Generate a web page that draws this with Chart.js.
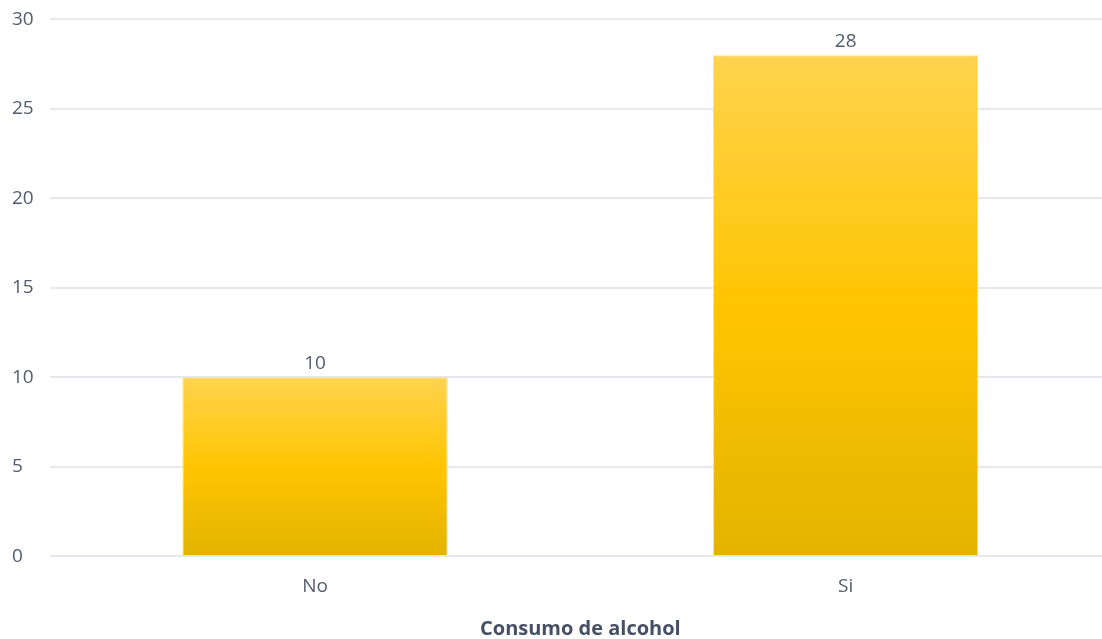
<!DOCTYPE html>
<html>
<head>
<meta charset="utf-8">
<script src="https://cdn.jsdelivr.net/npm/chart.js@4/dist/chart.umd.min.js"></script>
<style>
  html, body { margin: 0; padding: 0; background: #fff; overflow: hidden; }
  #wrap { width: 1111px; height: 639px; }
</style>
</head>
<body>
<div id="wrap"><canvas id="chart"></canvas></div>
<script>
const categories = ['No', 'Si'];
const counts = [10, 28];
const yTicks = [0, 5, 10, 15, 20, 25, 30];
const xTitle = 'Consumo de alcohol';

const textColor = '#525c6e';

// vertical gradient per bar, from its top to the baseline
const barGradient = (context) => {
    const chart = context.chart;
    const yScale = chart.scales.y;
    if (!chart.chartArea || !yScale || context.dataIndex === undefined) return '#FFC400';
    const top = yScale.getPixelForValue(counts[context.dataIndex]);
    const bottom = yScale.getPixelForValue(0);
    if (!isFinite(top) || !isFinite(bottom) || top === bottom) return '#FFC400';
    const g = chart.ctx.createLinearGradient(0, top, 0, bottom);
    g.addColorStop(0, '#FFD34E');
    g.addColorStop(0.5, '#FFC502');
    g.addColorStop(1, '#E3B300');
    return g;
};

const valueLabels = {
    id: 'valueLabels',
    afterDatasetsDraw(chart) {
        const ctx = chart.ctx;
        const meta = chart.getDatasetMeta(0);
        ctx.save();
        ctx.font = '19px "Open Sans", sans-serif';
        ctx.fillStyle = textColor;
        ctx.textAlign = 'center';
        ctx.textBaseline = 'middle';
        meta.data.forEach((bar, i) => {
            ctx.fillText(String(counts[i]), bar.x, bar.y - 14);
        });
        ctx.restore();
    }
};

new Chart(document.getElementById('chart').getContext('2d'), {
    type: 'bar',
    data: {
        labels: categories,
        datasets: [{
            data: counts,
            backgroundColor: barGradient,
            borderColor: 'rgba(255, 224, 120, 0.9)',
            borderWidth: 1,
            barPercentage: 0.5,
            categoryPercentage: 1
        }]
    },
    options: {
        responsive: true,
        maintainAspectRatio: false,
        animation: false,
        layout: { padding: { top: 16, left: 12, right: 0, bottom: -2 } },
        plugins: {
            legend: { display: false },
            tooltip: { enabled: false }
        },
        scales: {
            x: {
                grid: { display: false, drawTicks: false },
                border: { display: false },
                ticks: {
                    color: textColor,
                    font: { family: 'Open Sans', size: 19 },
                    padding: 19
                },
                title: {
                    display: true,
                    text: xTitle,
                    color: '#465064',
                    font: { family: 'Open Sans', size: 20, weight: 'bold' },
                    padding: { top: 0, bottom: 0 }
                }
            },
            y: {
                min: 0,
                max: 30,
                afterBuildTicks: (scale) => {
                    scale.ticks = yTicks.map(v => ({ value: v }));
                },
                grid: { color: '#e6e8ee', lineWidth: 2, drawTicks: false },
                border: { display: false },
                ticks: {
                    color: textColor,
                    font: { family: 'Open Sans', size: 19 },
                    crossAlign: 'far',
                    padding: 8
                }
            }
        }
    },
    plugins: [valueLabels]
});
</script>
</body>
</html>
